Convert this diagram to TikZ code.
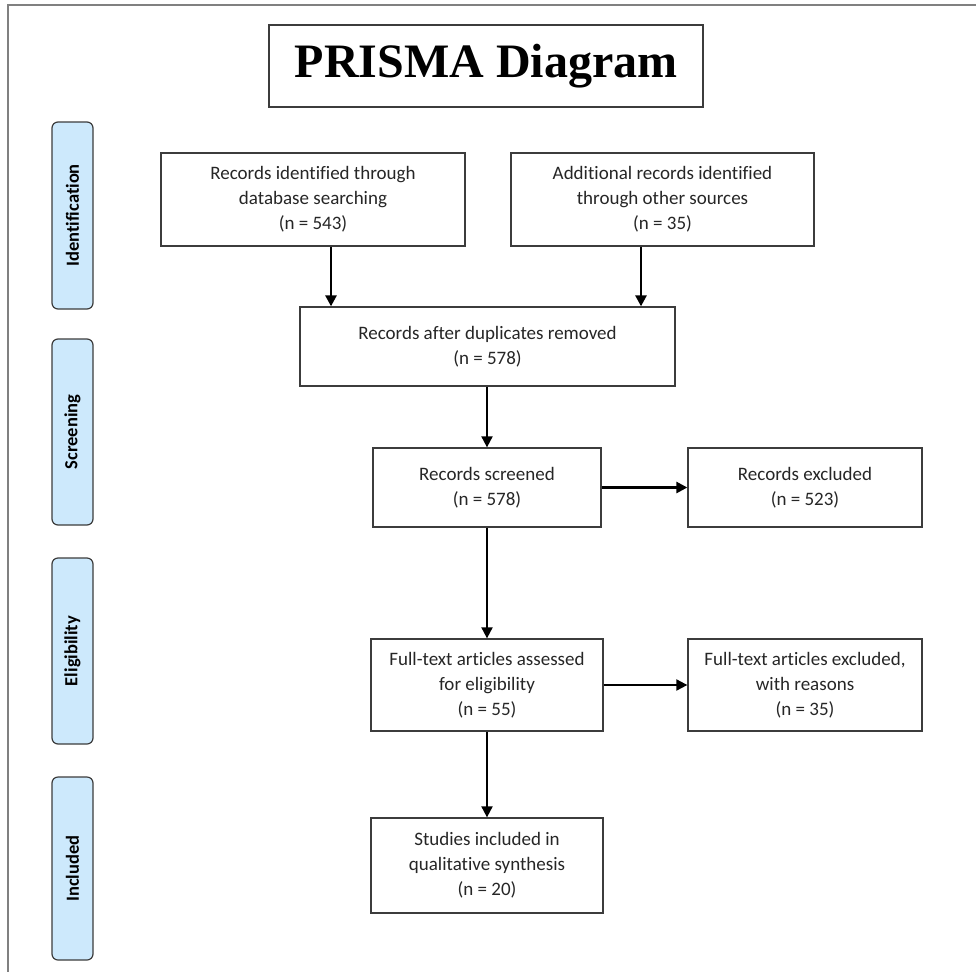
\documentclass[tikz,border=0pt]{standalone}
\usepackage{fontspec}
\setmainfont{Carlito}[Ligatures=NoCommon]
\newfontfamily\titlefont{Liberation Serif}
\usetikzlibrary{arrows.meta}
\definecolor{phasefill}{RGB}{205,233,252}
\definecolor{edgegray}{RGB}{60,60,60}
\begin{document}
\begin{tikzpicture}[x=1pt,y=-1pt,
  box/.style={draw=edgegray,line width=1.3pt,inner sep=0pt,align=center,
    text=black!85,font=\fontsize{19}{25}\selectfont},
  titlebox/.style={draw=edgegray,line width=1.3pt,inner sep=0pt,
    font=\titlefont\bfseries\fontsize{48}{50}\selectfont},
  phase/.style={draw=edgegray,line width=1.2pt,fill=phasefill,rounded corners=6pt,
    rotate=90,minimum height=41pt,inner sep=0pt,font=\bfseries\fontsize{18.5}{20}\selectfont},
  arr/.style={-{Triangle[length=11pt,width=11pt]},line width=2pt}]
\path[use as bounding box,fill=white] (0,0) rectangle (976,972);
% frame of the page
\draw[gray,line width=1.5pt] (976,5) -- (8,5) -- (8,972);
\node[titlebox,minimum width=434pt,minimum height=82pt] (title) at (486,66) {PRISMA Diagram};
% phases
\node[phase,minimum width=187pt] (pid) at (72.5,215.5) {Identification};
\node[phase,minimum width=186pt] (psc) at (72.5,432) {Screening};
\node[phase,minimum width=186pt] (pel) at (72.5,651) {Eligibility};
\node[phase,minimum width=183pt] (pin) at (72.5,868.5) {Included};
% boxes
\node[box,minimum width=304pt,minimum height=93pt] (ident) at (313,199.5)
  {Records identified through\\database searching\\(n = 543)};
\node[box,minimum width=303pt,minimum height=93pt] (add) at (662.5,199.5)
  {Additional records identified\\through other sources\\(n = 35)};
\node[box,minimum width=375pt,minimum height=79pt] (dup) at (487.5,346.5)
  {Records after duplicates removed\\(n = 578)};
\node[box,minimum width=228pt,minimum height=79pt] (scr) at (487,487.5)
  {Records screened\\(n = 578)};
\node[box,minimum width=234pt,minimum height=79pt] (exc) at (805,487.5)
  {Records excluded\\(n = 523)};
\node[box,minimum width=232pt,minimum height=92pt] (ass) at (487,685)
  {Full-text articles assessed\\for eligibility\\(n = 55)};
\node[box,minimum width=234pt,minimum height=92pt] (ftx) at (805,685)
  {Full-text articles excluded,\\with reasons\\(n = 35)};
\node[box,minimum width=232pt,minimum height=95pt] (stu) at (487,865.5)
  {Studies included in\\qualitative synthesis\\(n = 20)};
% arrows
\draw[arr,line width=2.6pt] ([xshift=18pt]ident.south) -- ([xshift=18pt]ident.south |- dup.north);
\draw[arr,line width=2.6pt] ([xshift=-21.5pt]add.south) -- ([xshift=-21.5pt]add.south |- dup.north);
\draw[arr] (dup.south -| scr.north) -- (scr.north);
\draw[arr,line width=2.6pt] (scr.east) -- (exc.west);
\draw[arr] (scr.south) -- (ass.north);
\draw[arr] (ass.east) -- (ftx.west);
\draw[arr] (ass.south) -- (stu.north);
\end{tikzpicture}
\end{document}
